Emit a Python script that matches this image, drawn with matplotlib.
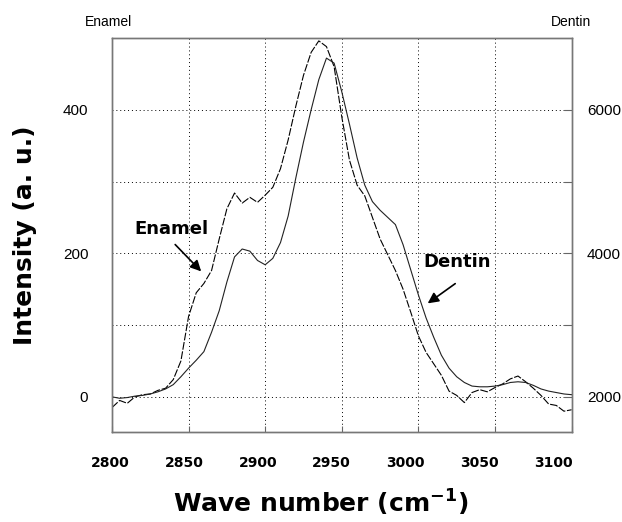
"""
Raman spectra of enamel and dentin, C-H stretching region
"""
import numpy as np
import matplotlib
matplotlib.use('Agg')
import matplotlib.pyplot as plt
from matplotlib.transforms import ScaledTranslation

# wave numbers (cm-1), 5 cm-1 steps
wavenumber = list(range(2800, 3101, 5))

# enamel intensity, left axis
enamel = [-15, -5, -9, 0, 3, 4, 9, 12, 24, 50,
          112, 145, 158, 176, 220, 262, 284, 270, 278, 271,
          281, 292, 318, 358, 405, 448, 480, 496, 488, 460,
          390, 330, 295, 280, 250, 220, 198, 176, 150, 118,
          85, 62, 46, 30, 8, 2, -8, 6, 10, 7,
          13, 18, 25, 29, 21, 12, 2, -10, -12, -20, -18]

# dentin intensity, right axis
dentin = [2000, 1980, 1990, 2010, 2020, 2040, 2070, 2110, 2170, 2280,
          2400, 2510, 2630, 2900, 3200, 3600, 3950, 4060, 4030, 3900,
          3840, 3930, 4150, 4520, 5050, 5550, 6000, 6420, 6720, 6650,
          6250, 5800, 5330, 4950, 4720, 4600, 4500, 4400, 4120, 3770,
          3420, 3100, 2830, 2580, 2400, 2280, 2200, 2150, 2140, 2140,
          2150, 2170, 2200, 2210, 2200, 2160, 2110, 2080, 2060, 2040, 2030]

xticks = [2800, 2850, 2900, 2950, 3000, 3050, 3100]
left_ticks = [0, 100, 200, 300, 400]
left_labels = ['0', '', '200', '', '400']
right_ticks = [2000, 3000, 4000, 5000, 6000]
right_labels = ['2000', '', '4000', '', '6000']

arial = 'Liberation Sans'
bold = 'DejaVu Sans'

fig = plt.figure(figsize=(6.22, 5.22), dpi=100)
ax = fig.add_axes([0.180, 0.1724, 0.739, 0.7548])
ax2 = ax.twinx()

ax.plot(wavenumber, enamel, color='k', lw=0.8, ls=(0, (7, 1.5)))
ax2.plot(wavenumber, dentin, color='#222222', lw=0.8)

ax.set_xlim(2800, 3100)
ax.set_ylim(-49, 500)
ax2.set_ylim(1510, 7000)

ax.set_xticks(xticks)
ax.set_xticklabels([str(t) for t in xticks], fontfamily=bold, fontweight='bold', fontsize=10)
ax.set_yticks(left_ticks)
ax.set_yticklabels(left_labels, fontfamily=arial, fontsize=11)
ax2.set_yticks(right_ticks)
ax2.set_yticklabels(right_labels, fontfamily=arial, fontsize=11)

ax.tick_params(axis='x', direction='in', length=4, pad=17, color='#666666')
ax.tick_params(axis='y', direction='in', length=0, pad=17)
ax2.tick_params(axis='y', direction='in', length=6, pad=11, color='#666666')

# labels drift slightly left in the original
for i, lbl in enumerate(ax.get_xticklabels()):
    lbl.set_transform(lbl.get_transform() + ScaledTranslation(-(2 + 2.7 * i) / 100, 0, fig.dpi_scale_trans))

ax.grid(True, color='k', lw=0.7, ls=(0, (1, 3)))
for a in (ax, ax2):
    for s in a.spines.values():
        s.set_color('#777777')
        s.set_linewidth(1.0)

# axis titles
fig.text(0.516, 0.018, 'Wave number (cm$^{\\mathbf{-1}}$)', ha='center', va='baseline',
         fontfamily=bold, fontweight='bold', fontsize=18)
fig.text(0.040, 0.55, 'Intensity (a. u.)', ha='center', va='center', rotation=90,
         fontfamily=bold, fontweight='bold', fontsize=18)
fig.text(0.175, 0.958, 'Enamel', ha='center', va='center', fontfamily=arial, fontsize=10)
fig.text(0.918, 0.958, 'Dentin', ha='center', va='center', fontfamily=arial, fontsize=10)

# curve annotations
ax.annotate('', xy=(2859.5, 172), xytext=(2840, 215),
            arrowprops=dict(arrowstyle='-|>', color='k', lw=1.2, mutation_scale=16))
ax.text(2839, 234, 'Enamel', ha='center', va='center', fontfamily=bold, fontweight='bold', fontsize=13)
ax.annotate('', xy=(3004.6, 128), xytext=(3025.5, 160),
            arrowprops=dict(arrowstyle='-|>', color='k', lw=1.2, mutation_scale=16))
ax.text(3025, 188, 'Dentin', ha='center', va='center', fontfamily=bold, fontweight='bold', fontsize=13)

fig.savefig('out.png', dpi=100)
plt.close(fig)
